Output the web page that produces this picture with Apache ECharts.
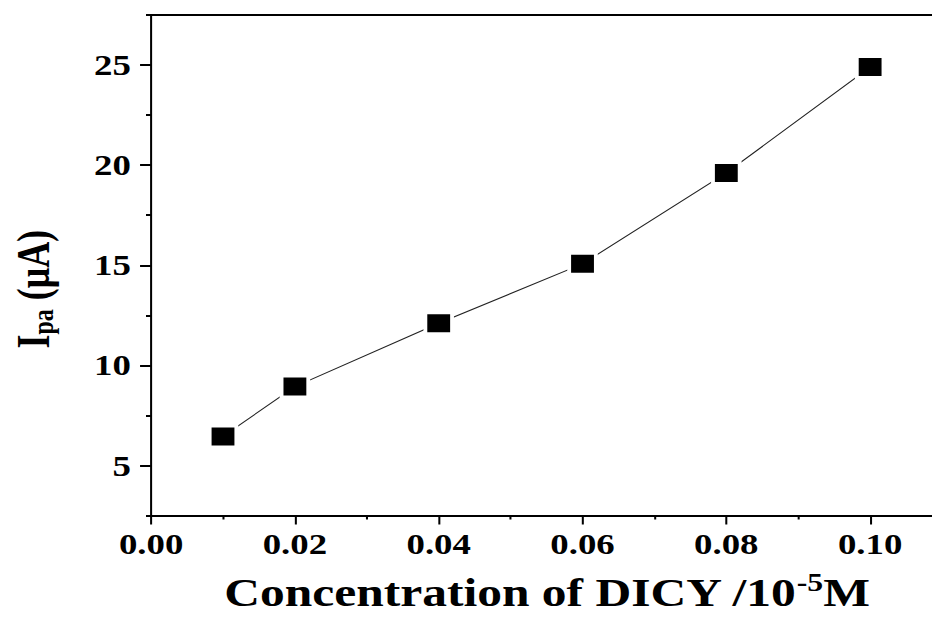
<!DOCTYPE html>
<html>
<head>
<meta charset="utf-8">
<script src="https://cdn.jsdelivr.net/npm/echarts@6/dist/echarts.min.js"></script>
<style>
html,body{margin:0;padding:0;background:#fff;overflow:hidden;}
#wrap{width:932px;height:617px;overflow:hidden;position:relative;}
#chart{width:760px;height:617px;transform:scaleX(1.26975);transform-origin:0 0;}
</style>
</head>
<body>
<div id="wrap"><div id="chart"></div></div>
<script>
// Data
const concentration = [0.01, 0.02, 0.04, 0.06, 0.08, 0.10];
const ipa = [6.45, 8.94, 12.1, 15.07, 19.61, 24.9];
const yMajorTicks = [5, 10, 15, 20, 25];
const xTitle = 'Concentration of DICY /10';
const xTitleSup = '-5';
const xTitleEnd = 'M';

const FONT = "'Liberation Serif', serif";
const chart = echarts.init(document.getElementById('chart'), null, {renderer: 'svg'});

const seriesData = concentration.map((c, i) => [c, ipa[i]]);

const option = {
  animation: false,
  backgroundColor: '#fff',
  grid: {left: 117.3, top: 15, width: 624.6, height: 502, show: false},
  xAxis: [{
    type: 'value', min: 0, max: 0.11, interval: 0.02, position: 'bottom',
    axisLine: {show: true, onZero: false, lineStyle: {color: '#000', width: 2}},
    axisTick: {show: true, length: 9, lineStyle: {color: '#000', width: 1.6}},
    minorTick: {show: true, splitNumber: 2, length: 4, lineStyle: {color: '#000', width: 1.6}},
    splitLine: {show: false},
    axisLabel: {
      formatter: v => v.toFixed(2), showMaxLabel: false,
      fontFamily: FONT, fontWeight: 'bold', fontSize: 29, color: '#000', margin: 14
    },
    name: '{a|' + xTitle + '}{s|' + xTitleSup + '}{a|' + xTitleEnd + '}',
    nameLocation: 'middle', nameGap: 55,
    nameTextStyle: {
      rich: {
        a: {fontFamily: FONT, fontWeight: 'bold', fontSize: 39, color: '#000', lineHeight: 44},
        s: {fontFamily: FONT, fontWeight: 'bold', fontSize: 25, color: '#000', lineHeight: 28, verticalAlign: 'top'}
      }
    }
  }, {
    type: 'value', min: 0, max: 0.11, interval: 0.02, position: 'top',
    axisLine: {show: true, onZero: false, lineStyle: {color: '#000', width: 2}},
    axisTick: {show: false}, axisLabel: {show: false}, splitLine: {show: false}
  }],
  yAxis: [{
    type: 'value', min: 2.5, max: 27.5, interval: 2.5, position: 'left',
    axisLine: {show: true, onZero: false, lineStyle: {color: '#000', width: 1.6}},
    axisTick: {show: true, length: 4, lineStyle: {color: '#000', width: 2}},
    splitLine: {show: false},
    axisLabel: {
      formatter: v => (Math.abs(v % 5) < 1e-9 ? String(v) : ''),
      fontFamily: FONT, fontWeight: 'bold', fontSize: 29, color: '#000', margin: 16
    },
    name: '{I|I}{s|pa}{t| (μA)}',
    nameLocation: 'middle', nameGap: 73, nameRotate: 90,
    nameTextStyle: {
      padding: [0, 48, 0, 0],
      rich: {
        I: {fontFamily: FONT, fontWeight: 'bold', fontSize: 36, color: '#000', lineHeight: 40},
        s: {fontFamily: FONT, fontWeight: 'bold', fontSize: 24, color: '#000', lineHeight: 24, verticalAlign: 'bottom'},
        t: {fontFamily: FONT, fontWeight: 'bold', fontSize: 36, color: '#000', lineHeight: 40}
      }
    }
  }, {
    type: 'value', min: 2.5, max: 27.5, interval: 2.5, position: 'left', offset: 0,
    axisLine: {show: false},
    axisTick: {show: true, customValues: yMajorTicks, length: 8.7, lineStyle: {color: '#000', width: 2}},
    axisLabel: {show: false}, splitLine: {show: false}
  }],
  series: [{
    type: 'line', xAxisIndex: 0, yAxisIndex: 0,
    data: seriesData,
    symbol: 'rect', symbolSize: 21,
    itemStyle: {color: '#000', borderColor: '#fff', borderWidth: 3},
    lineStyle: {color: '#222', width: 1},
    silent: true,
    emphasis: {disabled: true}
  }]
};
chart.setOption(option);
</script>
</body>
</html>
